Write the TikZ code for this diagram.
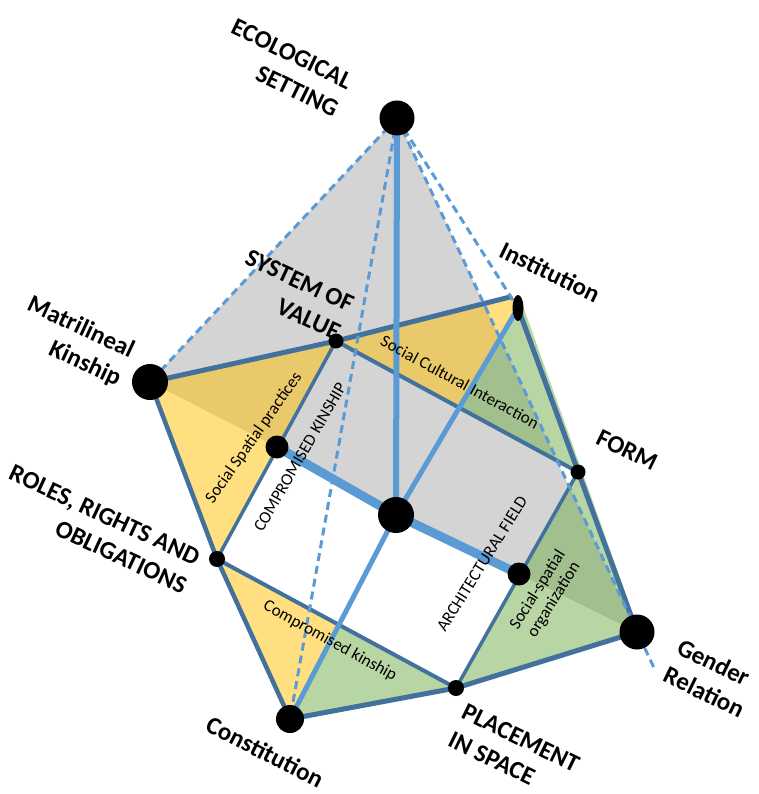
\documentclass[tikz,border=0pt]{standalone}
\usepackage{fontspec}
\setmainfont{Carlito}
\usetikzlibrary{shapes.geometric}
\definecolor{darkblue}{HTML}{41719C}
\definecolor{lightblue}{HTML}{5B9BD5}
\definecolor{panelgray}{HTML}{D4D4D4}
\definecolor{gold}{HTML}{FFC000}
\definecolor{leaf}{HTML}{70AD47}
\begin{document}
\begin{tikzpicture}[x=1pt,y=-1pt,
  dk/.style={draw=darkblue, line cap=round, line join=round},
  lt/.style={draw=lightblue, line cap=round, line join=round},
  dsh/.style={draw=lightblue, line width=3pt, dash pattern=on 8pt off 5pt},
  dot/.style={circle, fill=black, inner sep=0pt, minimum size=#1},
  biglabel/.style={font=\fontsize{25}{31}\selectfont\bfseries, inner sep=0pt},
  smalllabel/.style={font=\fontsize{17}{19}\selectfont, inner sep=0pt, align=center},
  yel/.style={fill=gold, fill opacity=0.5},
  grn/.style={fill=leaf, fill opacity=0.5}]
\useasboundingbox (0,0) rectangle (759,794);

% vertices of the frame
\coordinate (pE)   at (397,118);
\coordinate (pM)   at (150,382);
\coordinate (pSV)  at (336,341);
\coordinate (pI)   at (518,308);
\coordinate (pItop) at (510,297);
\coordinate (pF)   at (578,472);
\coordinate (pG)   at (637,632);
\coordinate (pP)   at (456,688);
\coordinate (pC)   at (290,719);
\coordinate (pR)   at (217,559);
\coordinate (pSSP) at (277,447);
\coordinate (pO)   at (396,515);
\coordinate (pAF)  at (519,574);
\coordinate (pX)   at (459,407);
\coordinate (pY)   at (338,625);
\coordinate (pGtail) at (655,670);
\coordinate (pIs)  at (523,306);
\coordinate (pGs)  at (639,631);

% gray pyramid face
\fill[panelgray] (pE) -- (pM) -- (pSSP) -- (pO) -- (pAF) -- (pG) -- cycle;

% translucent yellow and green faces
\fill[yel] (pM) -- (pSV) -- (pR) -- cycle;
\fill[yel] (pSV) -- (pItop) -- (pI) -- (pX) -- cycle;
\fill[yel] (pR) -- (pY) -- (pC) -- cycle;
\fill[grn] (pI) -- (pX) -- (pF) -- (pAF) -- (pP) -- (pGs) -- (pIs) -- cycle;
\fill[grn] (pY) -- (pP) -- (pC) -- cycle;

% dark blue edges
\draw[dk, line width=5pt] (pM) -- (pSV) -- (pItop);
\draw[dk, line width=4pt] (pSV) -- (pF);
\draw[dk, line width=5pt] (pI) -- (pG);
\draw[dk, line width=4.5pt] (pM) -- (pR) -- (pC);
\draw[dk, line width=3.5pt] (pSV) -- (pR);
\draw[dk, line width=4pt] (pR) -- (pP);
\draw[dk, line width=5pt] (pC) -- (pP) -- (pG);
\draw[dk, line width=3.5pt] (pF) -- (pP);

% light blue axes
\draw[lt, line width=6pt] (pE) -- (pO);
\draw[lt, line width=9pt] (pSSP) -- (pO) -- (pAF);
\draw[lt, line width=5pt] (pI) -- (pO);
\draw[lt, line width=5pt] (pO) -- (pC);

% dashed ridges from the apex
\draw[dsh] (pE) -- (pM);
\draw[dsh] (pE) -- (pC);
\draw[dsh] (pE) -- (pI);
\draw[dsh] (pE) -- (pGtail);

% vertex dots
\node[dot=35pt] (E) at (pE) {};
\node[dot=36pt] (M) at (pM) {};
\node[dot=35pt] (G) at (pG) {};
\node[dot=36pt] (O) at (pO) {};
\node[dot=28pt] (C) at (pC) {};
\node[dot=23pt] (SSP) at (pSSP) {};
\node[dot=23pt] (AF) at (pAF) {};
\node[dot=15pt] (SV) at (pSV) {};
\node[dot=15pt] (F) at (pF) {};
\node[dot=16pt] (R) at (pR) {};
\node[dot=16pt] (P) at (pP) {};
\node[ellipse, fill=black, inner sep=0pt, minimum width=11pt, minimum height=26pt] (I) at (pI) {};

% outer labels
\node[biglabel, align=right, rotate=-26] (lE) at (285,68) {ECOLOGICAL\\SETTING};
\node[biglabel, align=right, rotate=-25] (lM) at (74,342) {Matrilineal\\Kinship};
\node[biglabel, align=right, rotate=-25] (lSV) at (293,295) {SYSTEM OF\\VALUE};
\node[biglabel, rotate=-26] (lI) at (550,272) {Institution};
\node[biglabel, rotate=-26] (lF) at (627,450) {FORM};
\node[biglabel, align=left, rotate=-26] (lG) at (711,678) {Gender\\Relation};
\node[biglabel, align=left, rotate=-26] (lP) at (514,752) {PLACEMENT\\IN SPACE};
\node[biglabel, rotate=-27] (lC) at (265,752) {Constitution};
\node[biglabel, align=right, rotate=-25] (lR) at (98,529) {ROLES, RIGHTS AND\\OBLIGATIONS};

% face labels
\node[smalllabel, rotate=55] (tSSP) at (254,438) {Social Spatial practices};
\node[smalllabel, rotate=60] (tCK) at (300,457) {COMPROMISED KINSHIP};
\node[smalllabel, rotate=-28.5] (tSCI) at (460,382) {Social Cultural Interaction};
\node[smalllabel, rotate=58] (tAF) at (482,564) {ARCHITECTURAL FIELD};
\node[smalllabel, rotate=-29] (tCk) at (330,641) {Compromised kinship};
\node[smalllabel, rotate=58] (tSSO) at (546,595) {Social-spatial\\organization};
\end{tikzpicture}
\end{document}
